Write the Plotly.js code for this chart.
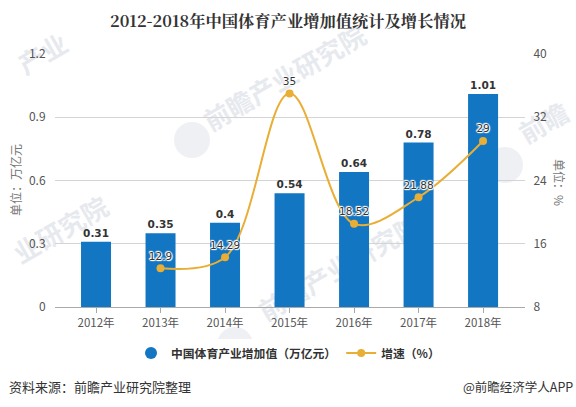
<!DOCTYPE html>
<html><head><meta charset="utf-8">
<script src="https://cdn.plot.ly/plotly-3.0.1.min.js"></script>
<style>html,body{margin:0;padding:0;background:#fff}#c{width:576px;height:407px}</style>
</head><body><div id="c"></div>
<script>
const years=['2012年','2013年','2014年','2015年','2016年','2017年','2018年'];
const valueAdded=[0.31,0.35,0.4,0.54,0.64,0.78,1.01];
const growthYears=['2013年','2014年','2015年','2016年','2017年','2018年'];
const growth=[12.9,14.29,35,18.52,21.88,29];
const leftTicks=[0,0.3,0.6,0.9,1.2];
const rightTicks=[8,16,24,32,40];
const W=576,H=407,L=55,R=525,T=54,B=307;
const px=x=>(x-L)/(R-L), py=y=>(B-y)/(B-T);
const FONT='"Noto Sans CJK SC","Noto Sans",sans-serif';
const halo='1px 0 1px #fff,-1px 0 1px #fff,0 1px 1px #fff,0 -1px 1px #fff,1px 1px 1px #fff,-1px -1px 1px #fff';
const markTexts=[['产业',44,56],['前瞻产业研究院',286,80],['业研究院',62,232],['前瞻产业研究院',341,270],['前瞻',545,125]];
const markLogos=[[192,140],[505,165],[235,345]];
const shapes=[];
markTexts.forEach(c=>shapes.push({type:'rect',xref:'paper',yref:'paper',layer:'below',
  x0:px(c[1]-10),x1:px(c[1]+10),y0:py(c[2]+10),y1:py(c[2]-10),line:{width:0},fillcolor:'rgba(0,0,0,0)',
  label:{text:c[0],textangle:-30,textposition:'middle center',font:{family:FONT,size:26,weight:'bold',color:'rgba(222,226,233,0.75)'}}}));
markLogos.forEach(c=>shapes.push({type:'circle',xref:'paper',yref:'paper',layer:'below',
  x0:px(c[0]-18),x1:px(c[0]+18),y0:py(c[1]+18),y1:py(c[1]-18),line:{width:0},fillcolor:'rgba(226,230,237,0.6)'}));
const annotations=[];
function t(text,x,y,size,color,extra){annotations.push(Object.assign({text,xref:'paper',yref:'paper',x:px(x),y:py(y),showarrow:false,
 xanchor:'center',yanchor:'middle',font:{family:FONT,size,color}},extra||{}));}
t('资料来源：前瞻产业研究院整理',7,386,13,'#333',{xanchor:'left'});
t('@前瞻经济学人APP',575,386,12.5,'#333',{xanchor:'right'});
t('单位：万亿元',15,180,12,'#777',{textangle:-90});
t('单位：%',560,182,12,'#777',{textangle:90});
const data=[
 {type:'bar',name:'中国体育产业增加值（万亿元）',x:years,y:valueAdded,width:0.465,showlegend:false,
  marker:{color:'#1276c3'},text:valueAdded.map(String),textposition:'outside',cliponaxis:false,
  textfont:{family:'"DejaVu Sans",sans-serif',size:10.5,color:'#333',weight:'bold'},hoverinfo:'skip'},
 {type:'scatter',mode:'markers',name:'中国体育产业增加值（万亿元）',x:[null],y:[null],
  marker:{color:'#1276c3',size:12,symbol:'circle'},hoverinfo:'skip'},
 {type:'scatter',mode:'lines+markers+text',name:'增速（%）',x:growthYears,y:growth,yaxis:'y2',
  line:{color:'#e9ae35',width:2,shape:'spline',smoothing:1},marker:{color:'#e9ae35',size:8},
  text:growth.map(String),textposition:'top center',cliponaxis:false,
  textfont:{family:'"DejaVu Sans",sans-serif',size:10.5,color:'#333',shadow:halo},hoverinfo:'skip'}
];
const layout={width:W,height:H,paper_bgcolor:'#fff',plot_bgcolor:'rgba(0,0,0,0)',showlegend:true,
 margin:{l:L,r:W-R,t:T,b:H-B},
 title:{text:'<b>2012-2018年中国体育产业增加值统计及增长情况</b>',x:288/W,xref:'container',xanchor:'center',y:1-21/H,yanchor:'middle',
  font:{family:'"Noto Serif CJK SC","Noto Sans CJK SC",serif',size:16.3,color:'#333'}},
 xaxis:{type:'category',categoryorder:'array',categoryarray:years,range:[-0.636,6.65],showgrid:false,
  showline:true,linecolor:'#aaa',linewidth:1,ticks:'outside',ticklen:5,tickcolor:'#aaa',
  tickfont:{family:FONT,size:11.5,color:'#555'},zeroline:false},
 yaxis:{range:[0,1.2],tickvals:leftTicks,ticktext:leftTicks.map(String),showgrid:true,gridcolor:'#d4d4d4',gridwidth:1,
  zeroline:false,tickfont:{family:FONT,size:12,color:'#555'},ticks:'outside',ticklen:6,tickcolor:'rgba(0,0,0,0)',showline:false},
 yaxis2:{overlaying:'y',side:'right',range:[8,40],tickvals:rightTicks,ticktext:rightTicks.map(String),showgrid:false,
  zeroline:false,tickfont:{family:FONT,size:12,color:'#555'},ticks:'outside',ticklen:5,tickcolor:'rgba(0,0,0,0)',showline:false},
 legend:{orientation:'h',x:px(288),xanchor:'center',y:py(353),yanchor:'middle',itemwidth:30,
  font:{family:FONT,size:11.8,color:'#333',weight:'bold'}},
 shapes,annotations
};
Plotly.newPlot('c',data,layout,{displayModeBar:false,staticPlot:true});
</script></body></html>
